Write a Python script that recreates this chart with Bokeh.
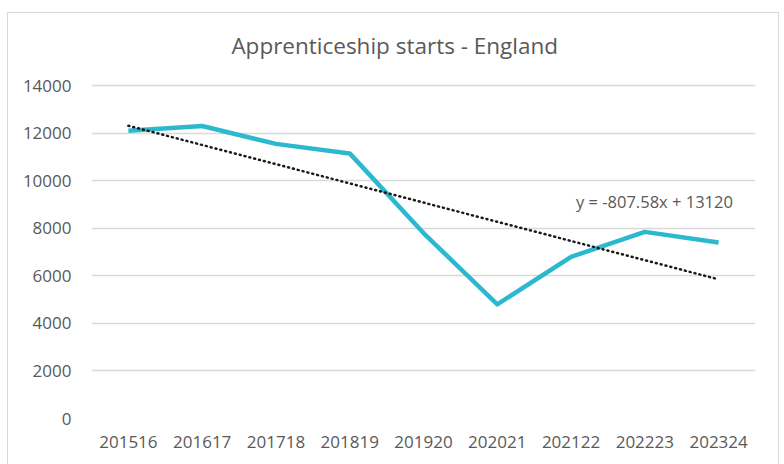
from bokeh.plotting import figure
from bokeh.models import FactorRange, Range1d, FixedTicker, Label
from bokeh.embed import file_html
from bokeh.resources import INLINE

years = ["201516", "201617", "201718", "201819", "201920", "202021", "202122", "202223", "202324"]
starts = [12100, 12300, 11550, 11150, 7800, 4800, 6800, 7850, 7400]
trend_slope = -807.58
trend_intercept = 13120
y_ticks = [0, 2000, 4000, 6000, 8000, 10000, 12000, 14000]
title_text = "Apprenticeship starts - England"
eq_text = "y = -807.58x + 13120"

trend = [trend_slope * (i + 1) + trend_intercept for i in range(len(years))]

FONT = "Open Sans"
TXT = "#595959"

# frame extends up to the top border so the title can live inside it;
# only the tick values 0..14000 get gridlines
p = figure(width=772, height=452, x_range=FactorRange(factors=years),
           y_range=Range1d(0, 16950), output_backend="svg", toolbar_location=None,
           min_border_left=83, min_border_right=25, min_border_top=2, min_border_bottom=47,
           margin=(12, 0, 0, 7))
p.styles = {"border-left": "1px solid #d9d9d9", "border-top": "1px solid #d9d9d9",
            "border-right": "1px solid #d9d9d9"}

p.outline_line_color = None
p.xgrid.grid_line_color = None
p.ygrid.grid_line_color = "#d9d9d9"
p.ygrid.grid_line_width = 1.3
p.yaxis.ticker = FixedTicker(ticks=y_ticks)

for ax in (p.xaxis, p.yaxis):
    ax.axis_line_color = None
    ax.major_tick_line_color = None
    ax.minor_tick_line_color = None
    ax.major_label_text_font = FONT
    ax.major_label_text_font_size = "17px"
    ax.major_label_text_color = TXT
p.yaxis.major_label_standoff = 14
p.xaxis.major_label_standoff = 11

p.line(years, starts, line_color="#2cb9d0", line_width=4.5, line_join="round")
p.line(years, trend, line_color="#1a1a1a", line_width=2.5, line_dash="1 4", line_cap="round")

title = Label(x=4.11, y=15685, text=title_text, text_font=FONT, text_font_size="22.5px",
              text_color=TXT, text_align="center", text_baseline="middle")
p.add_layout(title)

lab = Label(x=7.63, y=9110, text=eq_text, text_font=FONT, text_font_size="16.5px",
            text_color=TXT, text_align="center", text_baseline="middle")
p.add_layout(lab)

open("out.html", "w").write(file_html(p, INLINE))
